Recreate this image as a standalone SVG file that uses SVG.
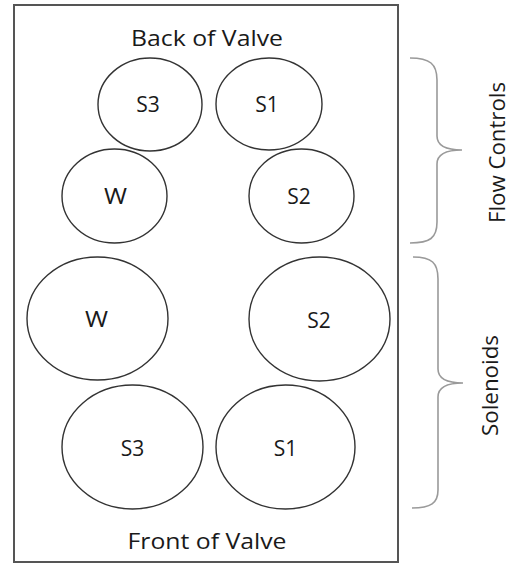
<svg xmlns="http://www.w3.org/2000/svg" width="517" height="565" viewBox="0 0 517 565">
<style>
.frame{fill:#fff;stroke:#555;stroke-width:2}
.port{fill:#fff;stroke:#333;stroke-width:1.4}
.brace{fill:none;stroke:#9a9a9a;stroke-width:1.6}
text{font-family:"Open Sans","Noto Sans","Liberation Sans",sans-serif;fill:#1a1a1a}
.lbl{font-size:21px;text-anchor:middle}
.title{font-size:22px;text-anchor:middle}
.side{font-size:21px;text-anchor:middle}
</style>
<rect width="517" height="565" fill="#fff"/>
<g id="valve">
<rect class="frame" x="14" y="5" width="384" height="557"/>
<text class="title" x="207" y="46" textLength="152" lengthAdjust="spacingAndGlyphs">Back of Valve</text>
<text class="title" x="207" y="549" textLength="159" lengthAdjust="spacingAndGlyphs">Front of Valve</text>
</g>
<g id="fc-s3"><ellipse class="port" cx="150" cy="104.5" rx="52" ry="46.5"/><text class="lbl" x="148" y="112">S3</text></g>
<g id="fc-s1"><ellipse class="port" cx="269" cy="104" rx="53" ry="46"/><text class="lbl" x="267" y="112">S1</text></g>
<g id="fc-w"><ellipse class="port" cx="114.5" cy="196" rx="52.5" ry="47"/><text class="lbl" x="115.5" y="204" textLength="23" lengthAdjust="spacingAndGlyphs">W</text></g>
<g id="fc-s2"><ellipse class="port" cx="301.5" cy="196" rx="52.5" ry="47"/><text class="lbl" x="299" y="204">S2</text></g>
<g id="sol-w"><ellipse class="port" cx="97.5" cy="318.5" rx="70.5" ry="61.5"/><text class="lbl" x="96.5" y="327" textLength="23" lengthAdjust="spacingAndGlyphs">W</text></g>
<g id="sol-s2"><ellipse class="port" cx="319.5" cy="319" rx="70.5" ry="62"/><text class="lbl" x="319" y="328">S2</text></g>
<g id="sol-s3"><ellipse class="port" cx="132.5" cy="447" rx="70.5" ry="62"/><text class="lbl" x="132.5" y="456">S3</text></g>
<g id="sol-s1"><ellipse class="port" cx="285.5" cy="447" rx="69.5" ry="62"/><text class="lbl" x="285.5" y="456">S1</text></g>
<g id="connectors">
<path class="brace" d="M410,58 C430,58 437,64 437,80 L437,136 C437,145 444,150 462,150 C444,150 437,155 437,164 L437,222 C437,238 430,243 410,243"/>
<path class="brace" d="M413,257 C432,257 438,263 438,279 L438,369 C438,378 445,383 463,383 C445,383 438,388 438,397 L438,490 C438,503 431,508 412,508"/>
</g>
<g id="flow-controls"><text class="side" transform="translate(505,152.5) rotate(-90)" x="0" y="0" textLength="141" lengthAdjust="spacingAndGlyphs">Flow Controls</text></g>
<g id="solenoids"><text class="side" transform="translate(498,385.5) rotate(-90)" x="0" y="0" textLength="101" lengthAdjust="spacingAndGlyphs">Solenoids</text></g>
</svg>
